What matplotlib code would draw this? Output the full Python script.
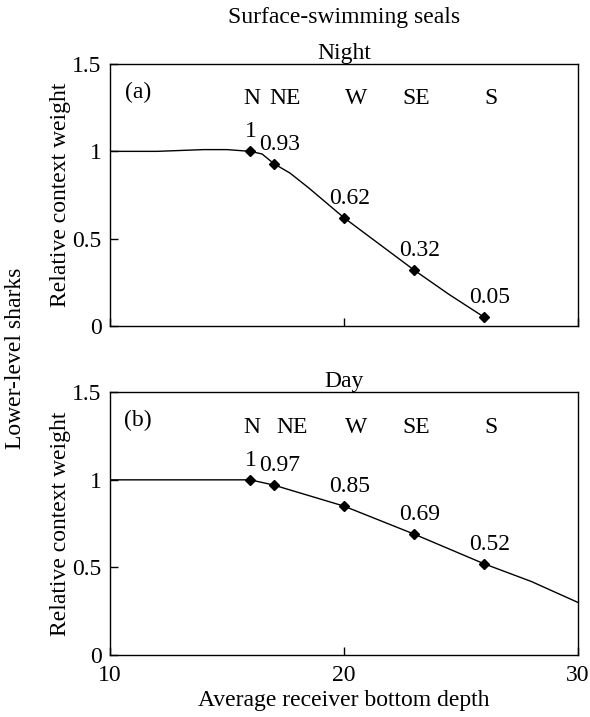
import matplotlib
matplotlib.use('Agg')
import matplotlib.pyplot as plt

plt.rcParams['font.family'] = ['Liberation Serif', 'DejaVu Serif']
plt.rcParams['font.size'] = 17

# receivers (depth, weight)
receivers = ['N', 'NE', 'W', 'SE', 'S']
depth = [16, 17, 20, 23, 26]
night_w = [1, 0.93, 0.62, 0.32, 0.05]
day_w = [1, 0.97, 0.85, 0.69, 0.52]
night_lbl = ['1', '0.93', '0.62', '0.32', '0.05']
day_lbl = ['1', '0.97', '0.85', '0.69', '0.52']

# fitted curves
night_cx = [10, 12, 14, 15, 16, 16.5, 17, 17.7, 18.5, 20, 21.5, 23, 24.5, 26]
night_cy = [1.0, 1.0, 1.01, 1.01, 1.0, 0.985, 0.93, 0.875, 0.79, 0.62, 0.47, 0.32, 0.18, 0.05]
day_cx = [10, 16, 17, 19, 20, 23, 26, 28, 30]
day_cy = [1.0, 1.0, 0.97, 0.89, 0.85, 0.69, 0.52, 0.42, 0.30]

# letter x positions for the receiver names
name_x_a = [16.05, 17.5, 20.5, 23.1, 26.3]
name_x_b = [16.05, 17.8, 20.5, 23.1, 26.3]

fig = plt.figure(figsize=(5.9, 7.17), dpi=100)
ax_a = fig.add_axes([0.1864, 0.5453, 0.7932, 0.3654])
ax_b = fig.add_axes([0.1864, 0.0865, 0.7932, 0.3664])


def panel(ax, cx, cy, w, lbls, name_x, tag, title):
    ax.plot(cx, cy, color='black', lw=1.0)
    ax.plot(depth, w, linestyle='none', marker='D', ms=5.5, color='black')
    for x, y, t in zip(depth, w, lbls):
        ax.annotate(t, (x, y), xytext=(4 if t != '1' else 0, 14), textcoords='offset points',
                    ha='center', va='center')
    for nx, n in zip(name_x, receivers):
        ax.text(nx, 1.30, n, ha='center', va='center')
    ax.text(11.2, 1.34, tag, ha='center', va='center')
    ax.set_xlim(10, 30)
    ax.set_ylim(0, 1.5)
    ax.set_yticks([0, 0.5, 1, 1.5])
    ax.set_yticklabels(['0', '0.5', '1', '1.5'])
    ax.set_xticks([10, 20, 30])
    ax.tick_params(direction='in', length=6, width=1, pad=6, labelsize=17)
    ax.tick_params(axis='x', pad=7)
    ax.set_ylabel('Relative context weight', labelpad=1)
    ax.set_title(title, fontsize=17, pad=3)
    for s in ax.spines.values():
        s.set_linewidth(1.0)


panel(ax_a, night_cx, night_cy, night_w, night_lbl, name_x_a, '(a)', 'Night')
panel(ax_b, day_cx, day_cy, day_w, day_lbl, name_x_b, '(b)', 'Day')
ax_a.set_xticklabels([])
ax_b.set_xticklabels(['10', '20', '30'])
ax_b.set_xlabel('Average receiver bottom depth', labelpad=3)

fig.text(0.583, 0.976, 'Surface-swimming seals', ha='center', va='center')
fig.text(0.027, 0.50, 'Lower-level sharks', rotation=90, ha='center', va='center')

fig.savefig('out.png', dpi=100)
